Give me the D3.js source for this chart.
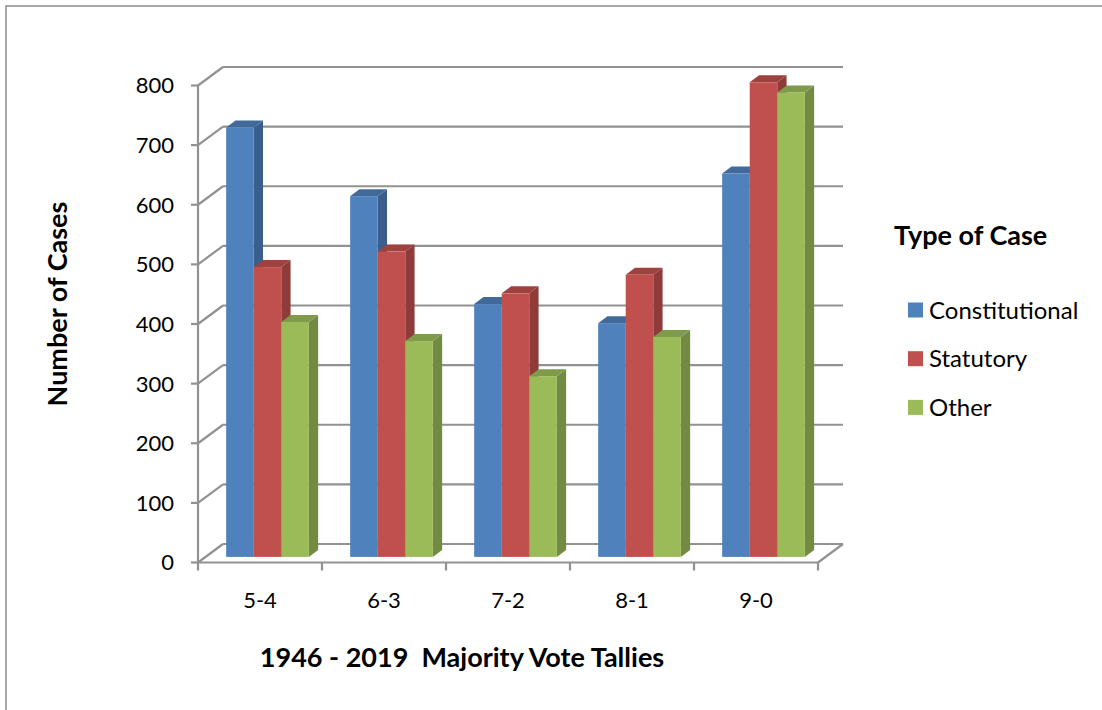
<!DOCTYPE html>
<html>
<head>
<meta charset="utf-8">
<script src="https://cdn.jsdelivr.net/npm/d3@7"></script>
<style>
  body { margin: 0; background: #fff; }
  text { font-family: Lato, "Open Sans", sans-serif; fill: #000; }
</style>
</head>
<body>
<div id="chart"></div>
<script>
var categories = ["5-4", "6-3", "7-2", "8-1", "9-0"];
var series = ["Constitutional", "Statutory", "Other"];
var constitutional = [720, 605, 424, 392, 643];
var statutory = [486, 512, 442, 473, 796];
var other = [394, 362, 303, 369, 779];
var yTicks = [0, 100, 200, 300, 400, 500, 600, 700, 800];

var colors = { "Constitutional": "#4f81bd", "Statutory": "#c0504d", "Other": "#9bbb59" };
var values = { "Constitutional": constitutional, "Statutory": statutory, "Other": other };

var w = 1102, h = 710;
var depthX = 25, depthY = -18.5;   // full depth of the floor
var barOffX = 7.5, barOffY = -5.6; // bars sit a bit back from the front
var barDepX = 9.3, barDepY = -7;   // depth of each bar

var svg = d3.select("#chart").append("svg")
    .attr("width", w)
    .attr("height", h);

// chart border, only top and left show
svg.append("path")
   .attr("d", "M6,710 L6,6 L1102,6")
   .style("fill", "none")
   .style("stroke", "#8c8c8c")
   .style("stroke-width", 1.5);

var x = d3.scaleBand()
          .domain(categories)
          .range([198, 818]);

var y = d3.scaleLinear()
          .domain([0, 800])
          .range([562.5, 85.5]);

var inner = d3.scaleBand()
              .domain(series)
              .range([0, x.bandwidth()])
              .paddingOuter(0.75);

var grid = svg.append("g")
              .style("fill", "none")
              .style("stroke", "#929292")
              .style("stroke-width", 2.2);

// back wall gridlines + side wall diagonals
yTicks.forEach(function(t) {
    grid.append("line")
        .attr("x1", 198 + depthX).attr("y1", y(t) + depthY)
        .attr("x2", 818 + depthX).attr("y2", y(t) + depthY);
    grid.append("line")
        .attr("x1", 198).attr("y1", y(t))
        .attr("x2", 198 + depthX).attr("y2", y(t) + depthY);
    grid.append("line")
        .attr("x1", 191).attr("y1", y(t))
        .attr("x2", 198).attr("y2", y(t));
});

// front axis and floor
grid.append("line")
    .attr("x1", 198).attr("y1", y(800))
    .attr("x2", 198).attr("y2", y(0));
grid.append("line")
    .attr("x1", 198).attr("y1", y(0))
    .attr("x2", 818).attr("y2", y(0));
grid.append("line")
    .attr("x1", 818).attr("y1", y(0))
    .attr("x2", 818 + depthX).attr("y2", y(0) + depthY);

var bounds = categories.map(function(c) { return x(c); }).concat([818]);
bounds.forEach(function(b) {
    grid.append("line")
        .attr("x1", b).attr("y1", y(0))
        .attr("x2", b).attr("y2", y(0) + 8);
});

// y tick labels
svg.selectAll("text.ytick")
   .data(yTicks)
   .enter()
   .append("text")
   .attr("class", "ytick")
   .attr("x", 174)
   .attr("y", function(d) { return y(d); })
   .attr("dy", "0.36em")
   .attr("text-anchor", "end")
   .style("font-size", "22px")
   .text(function(d) { return d; });

// category labels
svg.selectAll("text.xtick")
   .data(categories)
   .enter()
   .append("text")
   .attr("class", "xtick")
   .attr("x", function(d) { return x(d) + x.bandwidth() / 2; })
   .attr("y", 608)
   .attr("text-anchor", "middle")
   .style("font-size", "22px")
   .text(function(d) { return d; });

// bars, drawn left to right so the next front face hides the side
var bars = [];
categories.forEach(function(c, i) {
    series.forEach(function(s) {
        bars.push({ cat: c, ser: s, val: values[s][i] });
    });
});

var barG = svg.append("g");
bars.forEach(function(d) {
    var x0 = x(d.cat) + inner(d.ser) + barOffX,
        x1 = x0 + inner.bandwidth(),
        yb = y(0) + barOffY,
        yt = y(d.val) + barOffY;
    var base = d3.color(colors[d.ser]);

    var g = barG.append("g");
    g.append("path")
     .attr("d", "M" + x1 + "," + yb + "L" + (x1 + barDepX) + "," + (yb + barDepY) +
                "L" + (x1 + barDepX) + "," + (yt + barDepY) + "L" + x1 + "," + yt + "Z")
     .style("fill", base.darker(0.85));
    g.append("path")
     .attr("d", "M" + x0 + "," + yt + "L" + (x0 + barDepX) + "," + (yt + barDepY) +
                "L" + (x1 + barDepX) + "," + (yt + barDepY) + "L" + x1 + "," + yt + "Z")
     .style("fill", base.darker(0.55));
    g.append("rect")
     .attr("x", x0)
     .attr("y", yt)
     .attr("width", x1 - x0)
     .attr("height", yb - yt)
     .style("fill", base);
});

// axis titles
svg.append("text")
   .attr("transform", "translate(67,304) rotate(-90)")
   .attr("text-anchor", "middle")
   .style("font-size", "27px")
   .style("font-weight", "bold")
   .text("Number of Cases");

svg.append("text")
   .attr("x", 462)
   .attr("y", 667)
   .attr("text-anchor", "middle")
   .style("font-size", "27px")
   .style("font-weight", "bold")
   .style("white-space", "pre")
   .text("1946 - 2019  Majority Vote Tallies");

// legend
svg.append("text")
   .attr("x", 894)
   .attr("y", 245)
   .style("font-size", "27px")
   .style("font-weight", "bold")
   .text("Type of Case");

var legend = svg.selectAll("g.legend")
                .data(series)
                .enter()
                .append("g")
                .attr("class", "legend")
                .attr("transform", function(d, i) { return "translate(908," + (310 + i * 48.7) + ")"; });

legend.append("rect")
      .attr("x", 0)
      .attr("y", -7.5)
      .attr("width", 15)
      .attr("height", 15)
      .style("fill", function(d) { return colors[d]; });

legend.append("text")
      .attr("x", 21)
      .attr("y", 0)
      .attr("dy", "0.36em")
      .style("font-size", "24px")
      .text(function(d) { return d; });
</script>
</body>
</html>
